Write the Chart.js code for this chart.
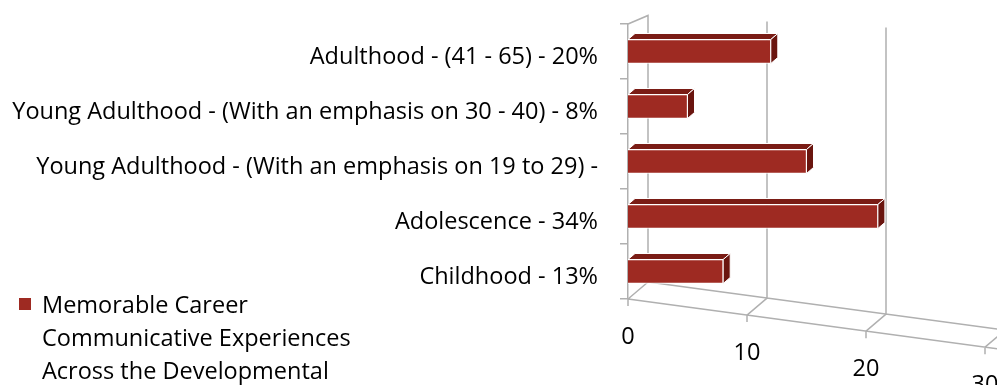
<!DOCTYPE html>
<html>
<head>
<meta charset="utf-8">
<script src="https://cdn.jsdelivr.net/npm/chart.js@4/dist/chart.umd.min.js"></script>
<style>
  body { margin: 0; background: #fff; }
  #wrap { position: relative; width: 997px; height: 385px; overflow: hidden; }
  #legend { position: absolute; left: 42px; top: 288px; font: 23.5px "Open Sans", sans-serif; line-height: 33px; color: #000; white-space: nowrap; }
  #legend .box { position: absolute; left: -23px; top: 10px; width: 12px; height: 12px; background: #9e2a22; }
</style>
</head>
<body>
<div id="wrap">
  <canvas id="stageChart" width="997" height="385"></canvas>
  <div id="legend"></div>
</div>
<script>
// data
const stageLabels = [
    "Adulthood - (41 - 65) - 20%",
    "Young Adulthood - (With an emphasis on 30 - 40) - 8%",
    "Young Adulthood - (With an emphasis on 19 to 29) -",
    "Adolescence - 34%",
    "Childhood - 13%"
];
const experienceCounts = [12, 5, 15, 21, 8];
const axisTicks = [0, 10, 20, 30];
const legendLines = ["Memorable Career", "Communicative Experiences", "Across the Developmental"];

const frontColor = "#9e2a22";
const topColor = "#7a1c15";
const sideColor = "#6a150f";
const wallColor = "#b0b0b0";
const labelFont = { family: "'Open Sans', sans-serif", size: 23.5 };

// perspective helpers
const depth = { x: 20, y: -17 };
const floorSlope = 0.135;

function floorY(area, px) {
    return area.bottom + (px - area.left) * floorSlope;
}

// walls, floor and slanted x labels
const boxPlugin = {
    id: "box3d",
    beforeDatasetsDraw(chart) {
        const ctx = chart.ctx;
        const area = chart.chartArea;
        const xs = chart.scales.x;
        ctx.save();
        ctx.strokeStyle = wallColor;
        ctx.lineWidth = 1.5;
        ctx.beginPath();
        // left wall top edge + back edge
        ctx.moveTo(area.left, area.top);
        ctx.lineTo(area.left + depth.x, area.top + depth.y * 0.5);
        ctx.lineTo(area.left + depth.x, floorY(area, area.left) + depth.y);
        // floor front edge
        ctx.moveTo(area.left, floorY(area, area.left));
        ctx.lineTo(area.right + 15, floorY(area, area.right + 15));
        // floor back edge
        ctx.moveTo(area.left + depth.x, floorY(area, area.left) + depth.y);
        ctx.lineTo(area.right + depth.x, floorY(area, area.right) + depth.y);
        axisTicks.forEach(v => {
            const px = xs.getPixelForValue(v);
            const fy = floorY(area, px);
            if (v > 0) {
                // back wall gridline
                ctx.moveTo(px + depth.x, area.top + depth.y * 0.5 + (px - area.left) * 0.05);
                ctx.lineTo(px + depth.x, fy + depth.y);
            }
            ctx.moveTo(px + depth.x, fy + depth.y);
            ctx.lineTo(px, fy);
            ctx.lineTo(px, fy + 7);
        });
        ctx.stroke();

        ctx.fillStyle = "#000";
        ctx.font = labelFont.size + "px " + labelFont.family;
        ctx.textAlign = "center";
        ctx.textBaseline = "middle";
        axisTicks.forEach(v => {
            const px = xs.getPixelForValue(v);
            ctx.fillText(String(v), px, floorY(area, px) + 38);
        });
        ctx.restore();
    },
    afterDatasetsDraw(chart) {
        const ctx = chart.ctx;
        const d = 7, e = -6;
        ctx.save();
        ctx.strokeStyle = "#fff";
        ctx.lineWidth = 1;
        chart.getDatasetMeta(0).data.forEach(bar => {
            const p = bar.getProps(["x", "y", "base", "height"], true);
            const top = p.y - p.height / 2;
            const bot = p.y + p.height / 2;
            // top face
            ctx.beginPath();
            ctx.moveTo(p.base, top);
            ctx.lineTo(p.base + d, top + e);
            ctx.lineTo(p.x + d, top + e);
            ctx.lineTo(p.x, top);
            ctx.closePath();
            ctx.fillStyle = topColor;
            ctx.fill();
            ctx.stroke();
            // side face
            ctx.beginPath();
            ctx.moveTo(p.x, top);
            ctx.lineTo(p.x + d, top + e);
            ctx.lineTo(p.x + d, bot + e);
            ctx.lineTo(p.x, bot);
            ctx.closePath();
            ctx.fillStyle = sideColor;
            ctx.fill();
            ctx.stroke();
        });
        ctx.restore();
    }
};

function buildLegend() {
    const el = document.getElementById("legend");
    el.innerHTML = '<span class="box"></span>' + legendLines.join("<br>");
}

function createChart() {
    const ctx = document.getElementById("stageChart").getContext("2d");
    new Chart(ctx, {
        type: "bar",
        data: {
            labels: stageLabels,
            datasets: [{
                label: legendLines.join(" "),
                data: experienceCounts,
                backgroundColor: frontColor,
                borderColor: "#fff",
                borderWidth: 1,
                barThickness: 24
            }]
        },
        options: {
            indexAxis: "y",
            responsive: false,
            animation: false,
            layout: { padding: { left: 10, right: 12, top: 24, bottom: 0 } },
            plugins: {
                legend: { display: false },
                tooltip: { enabled: false }
            },
            scales: {
                x: {
                    min: 0,
                    max: 30,
                    ticks: { display: false, stepSize: 10 },
                    grid: { display: false },
                    border: { display: false },
                    afterFit: s => { s.height = 86; s.paddingLeft = 0; s.paddingRight = 0; }
                },
                y: {
                    ticks: { font: labelFont, color: "#000", padding: 22, labelOffset: 6 },
                    grid: { drawOnChartArea: false, tickLength: 8, color: wallColor, lineWidth: 1.5 },
                    border: { color: wallColor, width: 1.5 },
                    afterFit: s => { s.width = 618; s.paddingTop = 0; s.paddingBottom = 0; }
                }
            }
        },
        plugins: [boxPlugin]
    });
}

buildLegend();
document.fonts.load("23.5px 'Open Sans'").then(createChart, createChart);
</script>
</body>
</html>
